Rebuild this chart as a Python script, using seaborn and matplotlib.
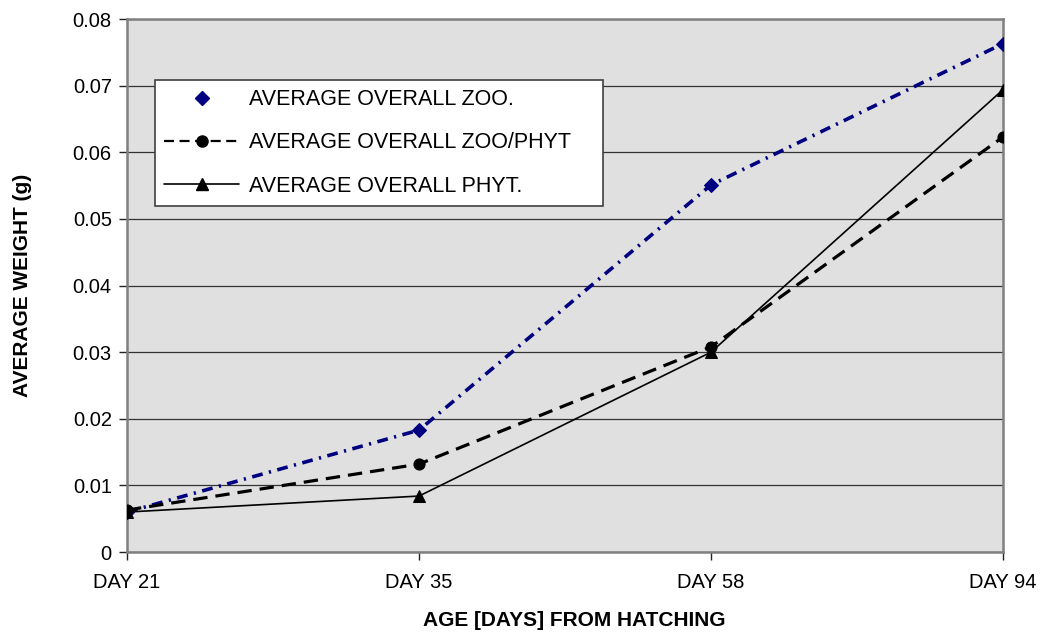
import numpy as np
import pandas as pd
import matplotlib
matplotlib.use("Agg")
import matplotlib.pyplot as plt
from matplotlib.lines import Line2D
import seaborn as sns

# values
days = ["DAY 21", "DAY 35", "DAY 58", "DAY 94"]
zoo = [0.0060, 0.0183, 0.0551, 0.0763]
zoo_phyt = [0.0063, 0.0132, 0.0308, 0.0623]
phyt = [0.0060, 0.0084, 0.0300, 0.0694]

labels = ["AVERAGE OVERALL ZOO.", "AVERAGE OVERALL ZOO/PHYT", "AVERAGE OVERALL PHYT."]

sns.set_style("white")
plt.rcParams["font.family"] = ["Liberation Sans", "DejaVu Sans"]
plt.rcParams["text.color"] = "black"
plt.rcParams["axes.labelcolor"] = "black"
plt.rcParams["xtick.color"] = "black"
plt.rcParams["ytick.color"] = "black"

fig = plt.figure(figsize=(10.43, 6.34), dpi=100)
ax = fig.add_axes([0.1218, 0.1293, 0.8399, 0.8407])
ax.set_facecolor("#e0e0e0")

df = pd.DataFrame({"day": days * 3,
                   "weight": zoo + zoo_phyt + phyt,
                   "series": [labels[0]] * 4 + [labels[1]] * 4 + [labels[2]] * 4})

styles = {
    labels[0]: dict(color="#000080", ls=(0, (3, 1.8, 0.6, 1.8)), lw=2.6, marker="D", ms=7),
    labels[1]: dict(color="black", ls=(0, (4.5, 2.5)), lw=2.3, marker="o", ms=8),
    labels[2]: dict(color="black", ls="-", lw=1.2, marker="^", ms=9),
}
for name, st in styles.items():
    sub = df[df["series"] == name]
    sns.lineplot(data=sub, x="day", y="weight", ax=ax, color=st["color"],
                 linestyle=st["ls"], linewidth=st["lw"], marker=st["marker"],
                 markersize=st["ms"], markeredgecolor=st["color"], sort=False,
                 legend=False, zorder=3)

ax.set_xlim(0, 3)
ax.set_ylim(0, 0.08)
ax.set_yticks(np.arange(0, 0.081, 0.01))
ax.set_yticklabels(["0"] + [f"{v:.2f}" for v in np.arange(0.01, 0.081, 0.01)])
ax.yaxis.grid(True, color="#333333", lw=0.9)
ax.set_axisbelow(True)
for s in ax.spines.values():
    s.set_color("#808080")
    s.set_linewidth(1.8)
ax.tick_params(axis="both", direction="out", length=6, width=1, color="#222222",
               labelsize=14.5, labelcolor="black", left=True, bottom=True)
ax.tick_params(axis="y", pad=5)
ax.tick_params(axis="x", pad=9)

ax.set_xlabel("AGE [DAYS] FROM HATCHING", fontsize=15, fontweight="bold")
ax.set_ylabel("AVERAGE WEIGHT (g)", fontsize=15, fontweight="bold")
ax.xaxis.set_label_coords(0.511, -0.11)
ax.yaxis.set_label_coords(-0.108, 0.5)

handles = [
    Line2D([], [], color="#000080", ls="none", marker="D", ms=7),
    Line2D([], [], color="black", ls=(0, (4.5, 2.5)), lw=1.6, marker="o", ms=8),
    Line2D([], [], color="black", ls="-", lw=1.2, marker="^", ms=9),
]
leg = ax.legend(handles, labels, loc="upper left",
                bbox_to_anchor=(0.032, 0.6380, 0.5114, 0.2476), mode="expand",
                fontsize=15.5, frameon=True, fancybox=False, framealpha=1,
                edgecolor="#404040", handlelength=3.5, labelspacing=1.04,
                borderpad=0.42, handletextpad=0.45, borderaxespad=0)
leg.get_frame().set_linewidth(1.2)

fig.savefig("out.png", dpi=100)
